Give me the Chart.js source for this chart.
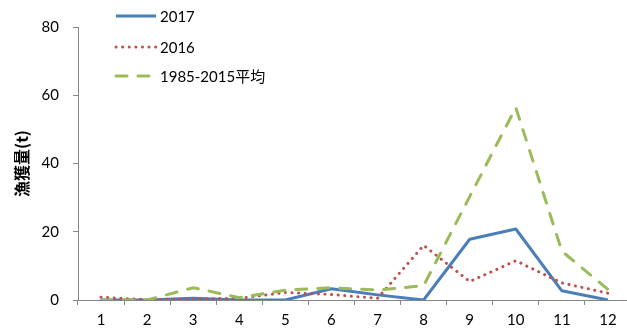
<!DOCTYPE html>
<html><head><meta charset="utf-8">
<script src="https://cdn.jsdelivr.net/npm/chart.js@4/dist/chart.umd.min.js"></script>
<style>
html,body{margin:0;padding:0;background:#fff;overflow:hidden}
#wrap{width:627px;height:336px;overflow:hidden;position:relative}
#c{position:absolute;left:0;top:0}
</style></head>
<body><div id="wrap"><canvas id="c" width="632" height="336" style="width:632px;height:336px"></canvas></div>
<script>
const months = ['1','2','3','4','5','6','7','8','9','10','11','12'];
const s2017 = [0, 0, 0.5, 0, 0, 3.3, 1.5, 0, 17.8, 20.8, 2.7, 0];
const s2016 = [0.8, 0.1, 0.3, 0.5, 2.2, 1.6, 0.5, 16, 5.4, 11.5, 5, 2];
const sAvg = [0, 0, 3.6, 0.7, 2.9, 3.6, 2.9, 4.2, 30.3, 56.4, 14.3, 3.1];
const labels2017 = '2017', labels2016 = '2016', labelsAvg = '1985-2015平均';
const yTitle = '漁獲量(t)';

const BLUE = '#4A7EBB', RED = '#C0504D', GREEN = '#9BBB59';
const tickFont = {family: 'Lato, "Noto Sans", sans-serif', size: 15};

const legendPlugin = {
  id: 'customLegend',
  afterDraw(chart) {
    const ctx = chart.ctx;
    const items = [
      {t: labels2017, c: BLUE, dash: [], cap: 'butt', y: 16},
      {t: labels2016, c: RED, dash: [0.1, 6.5], cap: 'round', y: 47},
      {t: labelsAvg, c: GREEN, dash: [11, 11], cap: 'round', y: 76}
    ];
    ctx.save();
    items.forEach(it => {
      ctx.beginPath();
      ctx.strokeStyle = it.c;
      ctx.lineWidth = 3;
      ctx.lineCap = it.cap;
      ctx.setLineDash(it.dash);
      ctx.moveTo(116, it.y); ctx.lineTo(156, it.y);
      ctx.stroke();
      ctx.setLineDash([]);
      ctx.fillStyle = '#000';
      ctx.font = '15px Lato, "Noto Sans CJK JP", sans-serif';
      ctx.textBaseline = 'middle';
      ctx.textAlign = 'left';
      ctx.fillText(it.t, 160, it.y + 1);
    });
    ctx.restore();
  }
};

new Chart(document.getElementById('c'), {
  type: 'line',
  data: {
    labels: months,
    datasets: [
      {label: labelsAvg, data: sAvg, borderColor: GREEN, borderWidth: 3, borderDash: [11, 11], borderCapStyle: 'round', pointRadius: 0, tension: 0, fill: false},
      {label: labels2016, data: s2016, borderColor: RED, borderWidth: 3, borderDash: [0.1, 6.5], borderCapStyle: 'round', pointRadius: 0, tension: 0, fill: false},
      {label: labels2017, data: s2017, borderColor: BLUE, borderWidth: 3, pointRadius: 0, tension: 0, fill: false, borderJoinStyle: 'round'}
    ]
  },
  options: {
    responsive: false,
    animation: false,
    layout: {padding: {top: 27, right: 1, left: 0, bottom: 0}},
    plugins: {legend: {display: false}, tooltip: {enabled: false}},
    scales: {
      x: {
        offset: true,
        grid: {display: true, offset: true, drawOnChartArea: false, tickLength: 5, color: '#868686'},
        border: {display: true, color: '#868686', width: 1},
        ticks: {font: tickFont, color: '#000', padding: 6, maxRotation: 0},
        afterFit(s) { s.height = 36; }
      },
      y: {
        min: 0, max: 80,
        ticks: {stepSize: 20, font: tickFont, color: '#000', padding: 14},
        grid: {display: true, drawOnChartArea: false, tickLength: 5, color: '#868686'},
        border: {display: true, color: '#868686', width: 1},
        title: {display: true, text: yTitle, font: {family: '"Noto Sans CJK JP", sans-serif', size: 16, weight: 'bold'}, color: '#000', padding: {top: 12, bottom: 0}},
        afterFit(s) { s.width = 78; }
      }
    }
  },
  plugins: [legendPlugin]
});
</script></body></html>
